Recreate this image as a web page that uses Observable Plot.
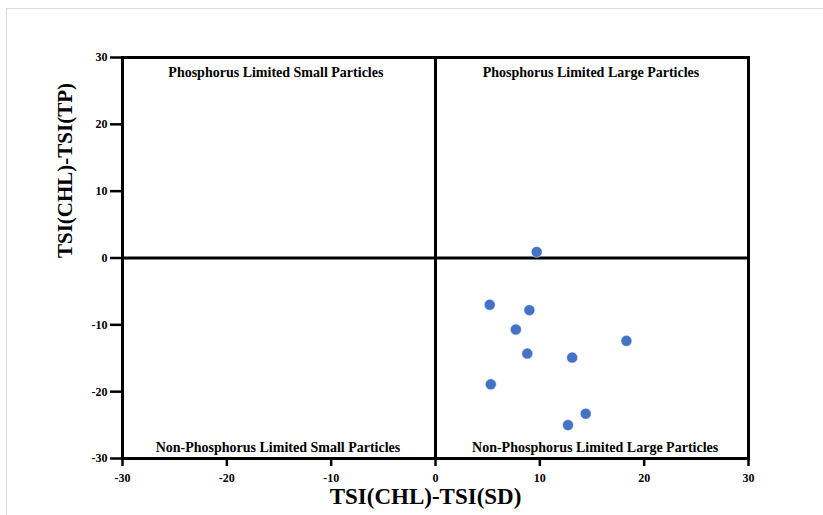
<!DOCTYPE html>
<html>
<head>
<meta charset="utf-8">
<script src="https://cdn.jsdelivr.net/npm/d3@7"></script>
<script src="https://cdn.jsdelivr.net/npm/@observablehq/plot@0.6"></script>
<style>
  html, body { margin: 0; padding: 0; background: white; }
  #wrap { position: relative; width: 823px; height: 515px; overflow: hidden; }
  #edge { position: absolute; left: 6px; top: 8px; width: 900px; height: 600px;
          border: 1px solid #dcdcdc; pointer-events: none; }
  #chart svg, #chart svg text { font-family: "Liberation Serif", "Times New Roman", serif !important; }
</style>
</head>
<body>
<div id="wrap"><div id="chart"></div><div id="edge"></div></div>
<script>
// Data
const xValues = [9.7, 5.2, 9.0, 7.7, 18.3, 8.8, 13.1, 5.3, 14.4, 12.7];
const yValues = [0.9, -7.0, -7.8, -10.7, -12.4, -14.3, -14.9, -18.9, -23.3, -25.0];
const xTicks = [-30, -20, -10, 0, 10, 20, 30];
const yTicks = [-30, -20, -10, 0, 10, 20, 30];
const quadrantLabels = ["Phosphorus Limited Small Particles", "Phosphorus Limited Large Particles",
                        "Non-Phosphorus Limited Small Particles", "Non-Phosphorus Limited Large Particles"];
const quadrantX = [-15.3, 14.9, -15.1, 15.3];
const quadrantY = [30, 30, -30, -30];
const xTitle = "TSI(CHL)-TSI(SD)";
const yTitle = "TSI(CHL)-TSI(TP)";

const points = xValues.map((x, i) => ({x, y: yValues[i]}));
const quads = quadrantLabels.map((t, i) => ({t, x: quadrantX[i], y: quadrantY[i]}));
const serif = "Liberation Serif";

const plot = Plot.plot({
  width: 823,
  height: 515,
  marginLeft: 122,
  marginRight: 75,
  marginTop: 57,
  marginBottom: 57,
  style: {background: "white", color: "black"},
  x: {domain: [-30, 30]},
  y: {domain: [-30, 30]},
  marks: [
    Plot.axisX({ticks: xTicks, tickSize: 8, tickPadding: 7, tickFormat: d => String(d),
      fontSize: 12, fontWeight: "bold", fontFamily: serif, strokeWidth: 2.5, label: null}),
    Plot.axisY({ticks: yTicks, tickSize: 12, tickPadding: 3, tickFormat: d => String(d),
      fontSize: 12, fontWeight: "bold", fontFamily: serif, strokeWidth: 2.5, label: null}),
    Plot.ruleX([0], {stroke: "black", strokeWidth: 3}),
    Plot.ruleY([0], {stroke: "black", strokeWidth: 3}),
    Plot.frame({stroke: "black", strokeWidth: 3}),
    Plot.text(quads.slice(0, 2), {x: "x", y: "y", text: "t", dy: 15, fontSize: 14, fontWeight: "bold", fontFamily: serif, fill: "black"}),
    Plot.text(quads.slice(2), {x: "x", y: "y", text: "t", dy: -11, fontSize: 14, fontWeight: "bold", fontFamily: serif, fill: "black"}),
    Plot.dot(points, {x: "x", y: "y", r: 5.5, fill: "#4472C4", stroke: "white", strokeWidth: 0.5}),
    Plot.text([xTitle], {frameAnchor: "bottom", dy: 45, dx: -10, fontSize: 23, fontWeight: "bold", fontFamily: serif, fill: "black"}),
    Plot.text([yTitle], {frameAnchor: "left", dx: -57, rotate: -90, fontSize: 21, fontWeight: "bold", fontFamily: serif, fill: "black"})
  ]
});
document.getElementById("chart").appendChild(plot);
</script>
</body>
</html>
